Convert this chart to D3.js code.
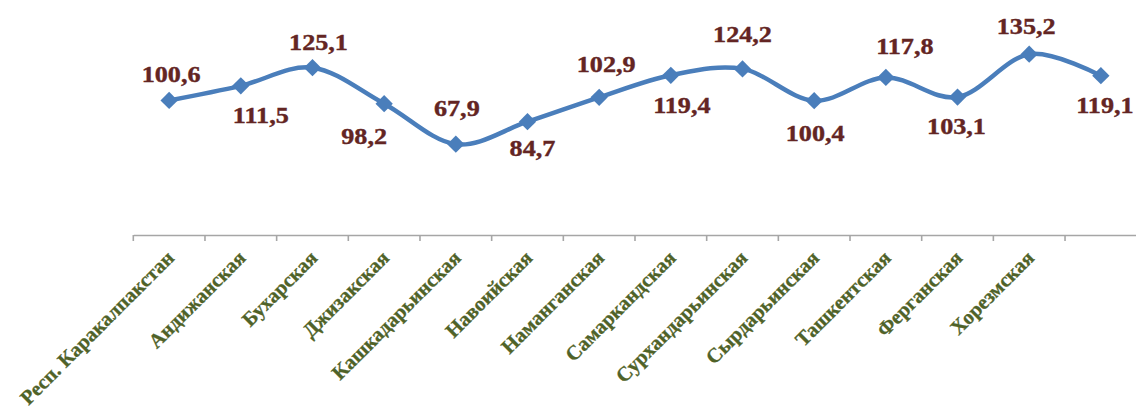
<!DOCTYPE html>
<html>
<head>
<meta charset="utf-8">
<script src="https://cdnjs.cloudflare.com/ajax/libs/d3/7.8.5/d3.min.js"></script>
<style>
    body { margin: 0; background: #fff; }
    svg { display: block; }
    .serif { font-family: "Liberation Serif", serif; font-weight: bold; }
</style>
</head>
<body>
<div class="diagram"></div>
<script>
// regions (the last band has no caption in the source picture)
let regions = ["Респ. Каракалпакстан", "Андижанская", "Бухарская", "Джизакская", "Кашкадарьинская",
    "Навоийская", "Наманганская", "Самаркандская", "Сурхандарьинская", "Сырдарьинская",
    "Ташкентская", "Ферганская", "Хорезмская", ""];
let values = [100.6, 111.5, 125.1, 98.2, 67.9, 84.7, 102.9, 119.4, 124.2, 100.4, 117.8, 103.1, 135.2, 119.1];
let valueLabels = ["100,6", "111,5", "125,1", "98,2", "67,9", "84,7", "102,9", "119,4", "124,2", "100,4", "117,8", "103,1", "135,2", "119,1"];
let yDomain = [0, 160];

// labels were dragged by hand in the original, offsets from the marker [dx, dy of baseline]
let labelNudge = [[2, -18], [20, 37], [6, -18], [-20, 40], [1, -28], [5, 34], [7, -25],
    [11, 38], [0, -27], [1, 40], [19, -23], [-1, 37], [-3, -20], [4, 37]];

let width = 1136, height = 410;
let axisY = 235;

let svg = d3.select(".diagram").append("svg").attr("width", width).attr("height", height);

let x = d3.scaleBand().domain(d3.range(regions.length)).range([133.3, 1136.7]);
let y = d3.scaleLinear().domain(yDomain).range([axisY, 21]);

// category axis
let axis = d3.axisBottom(x).tickSize(0).tickFormat("");
let axisG = svg.append("g").attr("transform", "translate(0," + axisY + ")").call(axis);
axisG.select(".domain").attr("stroke", "#a6a6a6").attr("stroke-width", 1.6);

// tick marks sit on band edges
let edges = d3.range(regions.length).map(i => x(i));
axisG.selectAll(".edge").data(edges).enter().append("line")
    .attr("x1", d => d).attr("x2", d => d)
    .attr("y1", 0).attr("y2", 6)
    .attr("stroke", "#a6a6a6").attr("stroke-width", 1.6);

axisG.selectAll(".cat").data(regions).enter().append("text")
    .attr("class", "cat serif")
    .attr("transform", (d, i) => "translate(" + (x(i) + x.bandwidth() / 2 - 4) + ",14) rotate(-45)")
    .attr("text-anchor", "end")
    .attr("dy", "0.7em")
    .style("font-size", "20.5px")
    .style("fill", "#4f6228")
    .style("stroke", "#4f6228")
    .style("stroke-width", 0.3)
    .text(d => d);

let cx = i => x(i) + x.bandwidth() / 2;

let line = d3.line()
    .x((d, i) => cx(i))
    .y(d => y(d))
    .curve(d3.curveCardinal.tension(0));

svg.append("path")
    .datum(values)
    .attr("d", line)
    .attr("fill", "none")
    .attr("stroke", "#4a7ebb")
    .attr("stroke-width", 4.5)
    .attr("stroke-linejoin", "round");

let diamond = d3.symbol().type(d3.symbolSquare).size(150);
svg.selectAll(".marker").data(values).enter().append("path")
    .attr("class", "marker")
    .attr("d", diamond)
    .attr("transform", (d, i) => "translate(" + cx(i) + "," + y(d) + ") rotate(45)")
    .attr("fill", "#4a7ebb");

let labels = svg.selectAll(".val").data(values).enter().append("g")
    .attr("class", "val")
    .attr("transform", (d, i) => "translate(" + (cx(i) + labelNudge[i][0]) + "," + (y(d) + labelNudge[i][1]) + ")");

labels.append("text")
    .attr("class", "serif")
    .attr("transform", "scale(1.09,1)")
    .attr("text-anchor", "middle")
    .style("font-size", "24px")
    .style("fill", "#632523")
    .style("stroke", "#632523")
    .style("stroke-width", 0.4)
    .text((d, i) => valueLabels[i]);
</script>
</body>
</html>
